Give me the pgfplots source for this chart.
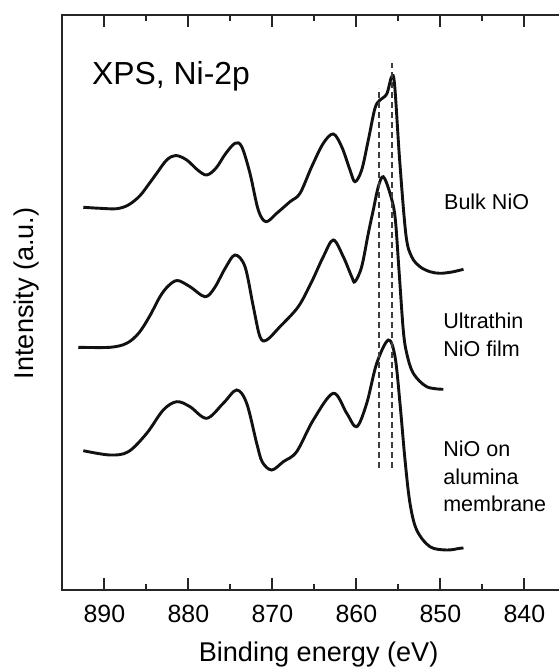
\documentclass[border=0pt]{standalone}
\usepackage{fontspec}
\setmainfont{Liberation Sans}
\usepackage{pgfplots}
\pgfplotsset{compat=1.18}
\definecolor{curveink}{HTML}{111111}
\definecolor{dashgray}{HTML}{3C3C3C}
\begin{document}
\begin{tikzpicture}
\begin{axis}[
  scale only axis, width=256.2bp, height=287.5bp,
  x dir=reverse, xmin=834, xmax=895, ymin=0, ymax=575,
  xtick={840,850,...,890}, minor x tick num=1, ytick=\empty,
  tick align=inside, major tick length=6bp, minor tick length=3bp,
  axis line style={line width=0.9bp, draw=black!85},
  every tick/.style={line width=0.9bp, draw=black!85},
  /pgf/number format/assume math mode=true,
  /pgf/number format/1000 sep={},
  xticklabel style={font=\fontsize{12.5}{14}\selectfont, anchor=base, yshift=-16.35bp},
  xlabel={Binding energy (eV)},
  every axis x label/.style={at={(axis description cs:0.5,0)}, anchor=base, yshift=-35.85bp, font=\fontsize{13.6}{16}\selectfont},
  ylabel={Intensity (a.u.)},
  every axis y label/.style={at={(axis description cs:-0.0568,0.516)}, rotate=90, anchor=base, font=\fontsize{13.6}{16}\selectfont},
  clip=false,
]
% Bulk NiO
\addplot[curveink, line width=1.45bp, smooth, tension=0.55] coordinates {
(892.51,382.7) (890.52,381.7) (888.54,381.3) (887.15,385) (885.8,394)
(884.7,406) (883.77,416.7) (882.58,430) (881.5,434.5) (880.2,430)
(878.9,420) (877.82,415) (876.7,422) (875.6,436) (874.45,446.7)
(873.65,443.3) (872.67,416.7) (871.68,380) (870.76,368.3) (869.49,376.7)
(867.90,388.3) (866.71,396.7) (865.32,423.3) (863.94,446.7) (862.75,456)
(861.75,443.3) (860.76,420) (860.17,408.3) (859.37,420) (858.58,450)
(857.79,481.7) (857.19,490) (856.39,496) (855.80,513.3) (855.45,505)
(854.85,430) (854.1,355) (853.42,333.3) (852.43,323.3) (851.24,318.3)
(850.05,316.7) (848.62,318) (847.25,320.7)};
% Ultrathin NiO film
\addplot[curveink, line width=1.45bp, smooth, tension=0.55] coordinates {
(893.11,242.7) (889.33,242.7) (887.35,246.7) (885.9,257) (884.6,274)
(883.38,293.3) (882.4,304) (881.3,309.5) (879.81,303.3) (878.02,293.3)
(876.9,302) (875.6,322) (874.45,335) (873.26,323.3) (872.27,283.3)
(871.48,253.3) (870.68,250) (869.10,263.3) (866.92,283.3) (865.32,308.3)
(863.94,333.3) (862.75,350) (861.56,333.3) (860.56,313.3) (860.17,308.3)
(859.37,323.3) (858.58,356.7) (857.99,380) (857.39,403.3) (856.80,413.3)
(856.00,396.7) (855.40,373.3) (854.93,320) (854.42,260) (854.01,236.7)
(853.23,216.7) (851.63,203.3) (849.65,200.7)};
% NiO on alumina membrane
\addplot[curveink, line width=1.45bp, smooth, tension=0.55] coordinates {
(892.51,139.3) (889.33,135) (887.15,138.3) (884.96,156.7) (882.99,180)
(881.39,188.3) (879.81,183.3) (877.82,171.7) (875.85,186.7) (874.25,200)
(873.06,186.7) (871.87,146.7) (871.2,128) (870.08,120) (868.70,128.3)
(867.11,138.3) (865.13,170) (862.75,196.7) (861.15,176.7) (859.96,163.3)
(858.77,186.7) (857.58,226.7) (856.20,250) (855.40,233.3) (854.81,186.7)
(854.21,130) (853.62,86.7) (852.82,60) (851.24,43.3) (849.25,40)
(847.67,41.7) (847.25,42)};
% peak markers
\addplot[dashgray, line width=1bp, dash pattern=on 3.2bp off 1.8bp] coordinates {(857.3,122) (857.3,502)};
\addplot[dashgray, line width=1bp, dash pattern=on 3.2bp off 1.8bp] coordinates {(855.8,122) (855.8,527)};
\node[anchor=base west, font=\fontsize{16}{18}\selectfont, inner sep=0pt] at (axis cs:891.5,505) {XPS, Ni-2p};
\node[anchor=base west, font=\fontsize{10.8}{13}\selectfont, inner sep=0pt] at (axis cs:849.6,380) {Bulk NiO};
\node[anchor=base west, font=\fontsize{10.8}{13}\selectfont, inner sep=0pt] at (axis cs:849.7,261) {Ultrathin};
\node[anchor=base west, font=\fontsize{10.8}{13}\selectfont, inner sep=0pt] at (axis cs:849.7,233) {NiO film};
\node[anchor=base west, font=\fontsize{10.8}{13}\selectfont, inner sep=0pt] at (axis cs:849.7,133) {NiO on};
\node[anchor=base west, font=\fontsize{10.8}{13}\selectfont, inner sep=0pt] at (axis cs:849.7,105) {alumina};
\node[anchor=base west, font=\fontsize{10.8}{13}\selectfont, inner sep=0pt] at (axis cs:849.7,78) {membrane};
\end{axis}
\pgfresetboundingbox
\path[use as bounding box] (-31.2bp,-39.5bp) rectangle (248.3bp,295bp);
\end{tikzpicture}
\end{document}
